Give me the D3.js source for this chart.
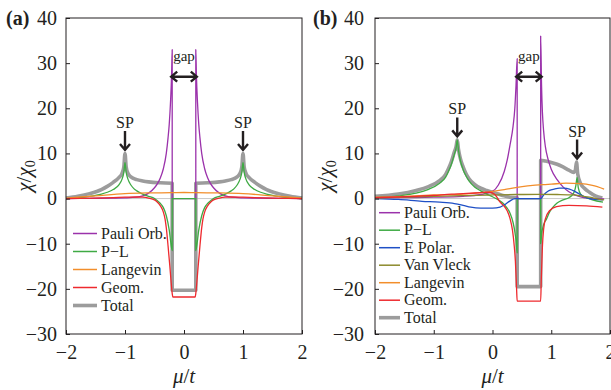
<!DOCTYPE html>
<html>
<head>
<meta charset="utf-8">
<script src="https://cdn.jsdelivr.net/npm/d3@7"></script>
<style>
  body { margin: 0; background: #fff; }
</style>
</head>
<body>
<svg id="chart" width="611" height="390" font-family="Liberation Serif, serif"></svg>
<script>
// ---- data: [mu/t, chi/chi0] ----
const xTicks = [-2, -1, 0, 1, 2];
const yTicks = [-30, -20, -10, 0, 10, 20, 30, 40];

// panel (a)
const paulA = [[-2,0],[-1.6,0.05],[-1.2,0.1],[-1,0.15],[-0.8,0.3],[-0.7,0.6],[-0.6,1.2],[-0.5,2.4],[-0.45,3.3],[-0.4,4.6],[-0.35,6.6],[-0.3,10],[-0.27,13.5],[-0.25,16.5],[-0.23,21],[-0.21,27.5],[-0.2,33],[-0.2,0],
  [0.2,0],[0.2,33],[0.21,27.5],[0.23,21],[0.25,16.5],[0.27,13.5],[0.3,10],[0.35,6.6],[0.4,4.6],[0.45,3.3],[0.5,2.4],[0.6,1.2],[0.7,0.6],[0.8,0.3],[1,0.15],[1.2,0.1],[1.6,0.05],[2,0]];
const plA = [[-2,0],[-1.8,0.2],[-1.6,0.5],[-1.4,1.0],[-1.3,1.4],[-1.2,2.0],[-1.1,3.1],[-1.05,4.3],[-1.02,5.8],[-1,8],[-0.98,5.8],[-0.95,4.3],[-0.9,3.0],[-0.85,2.2],[-0.8,1.7],[-0.7,1.0],[-0.6,0.5],[-0.5,0],[-0.45,-0.5],[-0.4,-1.1],[-0.35,-2.0],[-0.3,-3.8],[-0.25,-7],[-0.21,-11],[-0.2,-11.5],[-0.2,0],
  [0.2,0],[0.2,-11.5],[0.21,-11],[0.25,-7],[0.3,-3.8],[0.35,-2.0],[0.4,-1.1],[0.45,-0.5],[0.5,0],[0.6,0.5],[0.7,1.0],[0.8,1.7],[0.85,2.2],[0.9,3.0],[0.95,4.3],[0.98,5.8],[1,8],[1.02,5.8],[1.05,4.3],[1.1,3.1],[1.2,2.0],[1.3,1.4],[1.4,1.0],[1.6,0.5],[1.8,0.2],[2,0]];
const langA = [[-2,0.1],[-1.5,0.6],[-1,1.1],[-0.6,1.25],[-0.2,1.3],[0,1.35],[0.2,1.3],[0.6,1.25],[1,1.1],[1.5,0.6],[2,0.1]];
const geomA = [[-2,0],[-1.5,0.1],[-1.2,0.2],[-1,0.3],[-0.8,0.35],[-0.7,0.3],[-0.6,0.1],[-0.5,-0.3],[-0.45,-0.8],[-0.4,-1.6],[-0.35,-3],[-0.32,-4.6],[-0.3,-6.5],[-0.27,-10.5],[-0.24,-15],[-0.22,-18.2],[-0.2,-21],[-0.19,-21.8],
  [0.19,-21.8],[0.2,-21],[0.22,-18.2],[0.24,-15],[0.27,-10.5],[0.3,-6.5],[0.32,-4.6],[0.35,-3],[0.4,-1.6],[0.45,-0.8],[0.5,-0.3],[0.6,0.1],[0.7,0.3],[0.8,0.35],[1,0.3],[1.2,0.2],[1.5,0.1],[2,0]];
const totalA = [[-2,0.1],[-1.8,0.5],[-1.6,1.1],[-1.4,2.0],[-1.3,2.7],[-1.2,3.6],[-1.1,4.7],[-1.05,5.6],[-1.02,7],[-1,10],[-0.98,7],[-0.95,5.6],[-0.9,4.8],[-0.8,4.2],[-0.7,3.9],[-0.6,3.7],[-0.4,3.5],[-0.2,3.4],[-0.2,-20.3],
  [0.2,-20.3],[0.2,3.4],[0.4,3.5],[0.6,3.7],[0.7,3.9],[0.8,4.2],[0.9,4.8],[0.95,5.6],[0.98,7],[1,10],[1.02,7],[1.05,5.6],[1.1,4.7],[1.2,3.6],[1.3,2.7],[1.4,2.0],[1.6,1.1],[1.8,0.5],[2,0.1]];

// panel (b)
const paulB = [[-2,0.1],[-1.5,0.2],[-1,0.3],[-0.5,0.5],[-0.2,0.9],[0,1.6],[0.1,3],[0.2,6],[0.25,8.5],[0.3,12],[0.35,16],[0.38,20],[0.4,25],[0.42,31],[0.42,0],
  [0.82,0],[0.82,36],[0.835,25],[0.85,19],[0.87,15],[0.9,11.5],[0.95,8.5],[1,6.5],[1.1,4.2],[1.2,2.6],[1.3,1.5],[1.4,0.8],[1.5,0.35],[1.6,0.1],[1.75,0],[1.9,-0.1]];
const plB = [[-2,0.2],[-1.6,0.6],[-1.3,1.2],[-1.1,2.0],[-0.9,3.4],[-0.8,4.7],[-0.75,6.0],[-0.7,7.6],[-0.65,9.8],[-0.62,11.2],[-0.6,13],[-0.58,10.8],[-0.55,8.6],[-0.5,6.4],[-0.45,5],[-0.4,3.9],[-0.3,2.5],[-0.2,1.7],[-0.1,1.0],[0,0.4],[0.1,-0.3],[0.2,-1.3],[0.3,-3.3],[0.35,-5.3],[0.38,-7.3],[0.4,-9.2],[0.42,-12],[0.42,0],
  [0.82,0],[0.82,-10],[0.84,-7.5],[0.87,-5.8],[0.92,-4.5],[0.97,-3],[1.03,-1.9],[1.1,-1],[1.2,-0.3],[1.3,0.2],[1.37,1.0],[1.4,1.8],[1.42,3],[1.44,4.7],[1.46,2.4],[1.5,1],[1.6,0.2],[1.7,-0.3],[1.88,-0.8]];
const polB = [[-2,0],[-1.6,-0.2],[-1.2,-0.6],[-0.9,-0.8],[-0.65,-1.1],[-0.5,-1.5],[-0.37,-1.9],[-0.2,-2.1],[0,-2.1],[0.13,-1.9],[0.2,-1.4],[0.3,-0.5],[0.38,0],
  [0.82,0],[0.87,0.8],[0.92,1.4],[0.97,1.8],[1.05,2.1],[1.14,2.3],[1.22,2.3],[1.31,2.1],[1.4,1.6],[1.48,1.0],[1.56,0.4],[1.65,0],[1.75,-0.2],[1.88,-0.3]];
const vvB = [[-2,0.1],[-1.5,0.3],[-1,0.5],[-0.5,0.65],[0,0.8],[0.4,0.9],[0.8,0.95],[1.1,0.9],[1.36,0.8],[1.5,0.6],[1.65,0.3],[1.8,-0.1],[1.9,-0.3]];
const langB = [[-2,0.3],[-1.5,0.5],[-1,0.8],[-0.5,1.0],[-0.2,1.3],[0,1.6],[0.2,2.0],[0.42,2.5],[0.6,2.8],[0.86,3.1],[1,3.2],[1.25,3.4],[1.5,3.3],[1.7,2.9],[1.9,2.1]];
const geomB = [[-2,0.2],[-1.5,0.4],[-1,0.7],[-0.7,1.0],[-0.5,1.1],[-0.2,1.3],[-0.05,1.4],[0.03,1.0],[0.08,0.2],[0.13,-0.8],[0.2,-1.7],[0.25,-2.7],[0.3,-4.5],[0.34,-7],[0.37,-10.5],[0.39,-14],[0.41,-20],[0.42,-22.7],
  [0.82,-22.7],[0.83,-18],[0.85,-10.5],[0.87,-6.8],[0.9,-4.5],[0.97,-2.7],[1.09,-1.8],[1.3,-1.5],[1.6,-1.6],[1.87,-1.9]];
const totalB = [[-2,0.5],[-1.6,1.0],[-1.3,1.8],[-1.1,2.6],[-0.9,4.0],[-0.8,5.3],[-0.75,6.6],[-0.7,8.2],[-0.65,10.3],[-0.62,11.5],[-0.6,13],[-0.58,11],[-0.55,9],[-0.5,7],[-0.45,5.5],[-0.4,4.4],[-0.3,3.1],[-0.2,2.3],[-0.1,1.8],[0,1.4],[0.1,1.0],[0.2,0.6],[0.3,0.3],[0.42,0.2],[0.42,-19.5],
  [0.82,-19.5],[0.82,8.5],[0.9,8.3],[1,8.0],[1.1,7.6],[1.2,7.0],[1.3,6.3],[1.38,5.8],[1.41,6.3],[1.43,8.1],[1.45,5.5],[1.5,3.3],[1.57,2.2],[1.65,1.4],[1.75,0.6],[1.87,0.1]];

// annotations: SP peaks [mu, chi] and gap edges
const spA = [[-1, 10], [1, 10]];
const spB = [[-0.6, 13], [1.44, 8.1]];
const gapA = [-0.2, 0.2];
const gapB = [0.42, 0.82];

const colors = {
  pauli: '#9b32ab', pl: '#3faa44', pol: '#1f50c6', vv: '#8c8a2c',
  lang: '#f28e2b', geom: '#ee2a2e', total: '#9c9c9c'
};

const FONT = 'Liberation Serif, serif';
const INK = '#231f20';
const svg = d3.select('#chart');
const plotTop = 18, plotBottom = 334;

function txt(sel) {
  return sel.append('text').attr('font-family', FONT).attr('fill', INK);
}

function drawPanel(cfg) {
  const x = d3.scaleLinear().domain([-2, 2]).range([cfg.left, cfg.right]);
  const y = d3.scaleLinear().domain([-30, 40]).range([plotBottom, plotTop]);
  const g = svg.append('g');

  // faint zero line
  g.append('line')
    .attr('x1', x(-2)).attr('x2', x(2))
    .attr('y1', y(0)).attr('y2', y(0))
    .attr('stroke', '#c8c8c8').attr('stroke-width', 1);

  const line = d3.line()
    .x(d => x(d[0]))
    .y(d => y(d[1]))
    .curve(d3.curveMonotoneX);

  // total underneath, thin curves on top
  const drawOrder = cfg.series.slice().sort((a, b) => (b.key === 'total') - (a.key === 'total'));
  drawOrder.forEach(s => {
    g.append('path')
      .datum(s.data)
      .attr('fill', 'none')
      .attr('stroke', colors[s.key])
      .attr('stroke-width', s.key === 'total' ? 3.6 : 1.3)
      .attr('stroke-linejoin', 'round')
      .attr('d', line);
  });

  // frame
  g.append('rect')
    .attr('x', x(-2)).attr('y', plotTop)
    .attr('width', x(2) - x(-2)).attr('height', plotBottom - plotTop)
    .attr('fill', 'none').attr('stroke', INK).attr('stroke-width', 1);

  // axes (ticks point inward)
  const xa = g.append('g')
    .attr('transform', `translate(0,${plotBottom})`)
    .call(d3.axisBottom(x).tickValues(xTicks).tickFormat(d3.format('d'))
      .tickSizeInner(-4).tickSizeOuter(0).tickPadding(11));
  const ya = g.append('g')
    .attr('transform', `translate(${x(-2)},0)`)
    .call(d3.axisLeft(y).tickValues(yTicks).tickFormat(d3.format('d'))
      .tickSizeInner(-4).tickSizeOuter(0).tickPadding(cfg.yPad));
  [xa, ya].forEach(a => {
    a.select('.domain').remove();
    a.attr('font-size', 20).attr('font-family', FONT);
    a.selectAll('line').attr('stroke', INK);
    a.selectAll('text').attr('fill', INK);
  });

  // axis titles
  const yl = txt(g)
    .attr('transform', `translate(${cfg.yLabelX},176) rotate(-90)`)
    .attr('text-anchor', 'middle')
    .attr('font-size', 21);
  yl.append('tspan').attr('font-style', 'italic').text('χ');
  yl.append('tspan').text('/');
  yl.append('tspan').attr('font-style', 'italic').text('χ');
  yl.append('tspan').attr('font-size', 14).attr('dy', 4).text('0');

  const xl = txt(g)
    .attr('x', (x(-2) + x(2)) / 2).attr('y', 383)
    .attr('text-anchor', 'middle')
    .attr('font-size', 21);
  xl.append('tspan').attr('font-style', 'italic').text('μ');
  xl.append('tspan').text('/');
  xl.append('tspan').attr('font-style', 'italic').text('t');

  // panel letter
  txt(g)
    .attr('x', cfg.letterX).attr('y', 25)
    .attr('font-size', 20).attr('font-weight', 'bold')
    .text(cfg.letter);

  // SP arrows
  cfg.sp.forEach(([mu, chi]) => {
    const tip = y(chi) - 3.5, tail = tip - 19;
    g.append('path')
      .attr('d', `M${x(mu)},${tail}V${tip}M${x(mu) - 5},${tip - 6}L${x(mu)},${tip}L${x(mu) + 5},${tip - 6}`)
      .attr('fill', 'none').attr('stroke', INK).attr('stroke-width', 2.4);
    txt(g)
      .attr('x', x(mu)).attr('y', tail - 3)
      .attr('text-anchor', 'middle').attr('font-size', 16)
      .text('SP');
  });

  // gap double arrow
  const gy = y(27), gx0 = x(cfg.gap[0]) - 1, gx1 = x(cfg.gap[1]) + 1;
  g.append('path')
    .attr('d', `M${gx0},${gy}H${gx1}M${gx0 + 6},${gy - 5}L${gx0},${gy}L${gx0 + 6},${gy + 5}M${gx1 - 6},${gy - 5}L${gx1},${gy}L${gx1 - 6},${gy + 5}`)
    .attr('fill', 'none').attr('stroke', INK).attr('stroke-width', 2.4);
  txt(g)
    .attr('x', (gx0 + gx1) / 2).attr('y', y(30.4))
    .attr('text-anchor', 'middle').attr('font-size', 15)
    .text('gap');

  // legend
  const lg = g.append('g');
  cfg.series.forEach((s, i) => {
    const ly = cfg.legY + i * cfg.legStep;
    lg.append('line')
      .attr('x1', cfg.legX).attr('x2', cfg.legX + cfg.legLen)
      .attr('y1', ly).attr('y2', ly)
      .attr('stroke', colors[s.key])
      .attr('stroke-width', s.key === 'total' ? 3.6 : 1.5);
    txt(lg)
      .attr('x', cfg.legX + cfg.legLen + 4).attr('y', ly)
      .attr('dy', '0.33em').attr('font-size', 16)
      .text(s.name);
  });
}

drawPanel({
  letter: '(a)', letterX: 6, left: 66, right: 302, yPad: 9, yLabelX: 31,
  legX: 73, legLen: 24, legY: 233.5, legStep: 18,
  sp: spA, gap: gapA,
  series: [
    { key: 'pauli', name: 'Pauli Orb.', data: paulA },
    { key: 'pl', name: 'P\u2212L', data: plA },
    { key: 'lang', name: 'Langevin', data: langA },
    { key: 'geom', name: 'Geom.', data: geomA },
    { key: 'total', name: 'Total', data: totalA }
  ]
});

drawPanel({
  letter: '(b)', letterX: 313, left: 375, right: 610, yPad: 11, yLabelX: 332,
  legX: 379, legLen: 21, legY: 212.7, legStep: 17.5,
  sp: spB, gap: gapB,
  series: [
    { key: 'pauli', name: 'Pauli Orb.', data: paulB },
    { key: 'pl', name: 'P\u2212L', data: plB },
    { key: 'pol', name: 'E Polar.', data: polB },
    { key: 'vv', name: 'Van Vleck', data: vvB },
    { key: 'lang', name: 'Langevin', data: langB },
    { key: 'geom', name: 'Geom.', data: geomB },
    { key: 'total', name: 'Total', data: totalB }
  ]
});
</script>
</body>
</html>
